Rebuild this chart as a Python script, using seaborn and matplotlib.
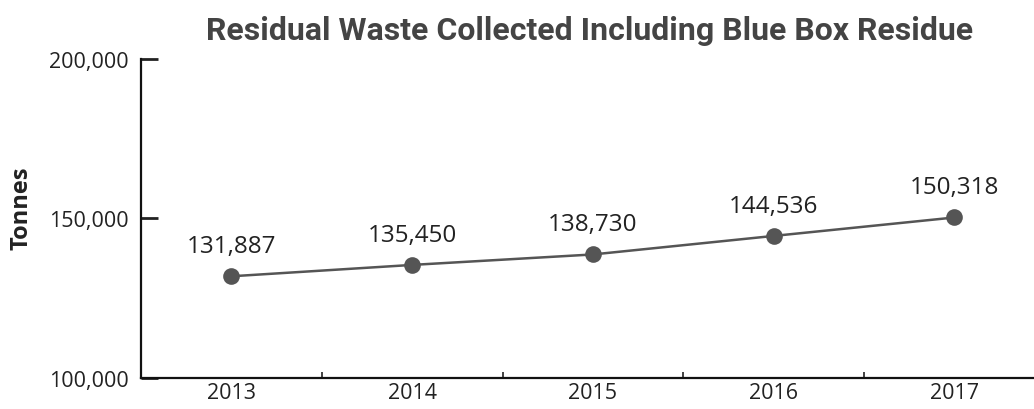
import matplotlib
matplotlib.use('Agg')
import matplotlib.pyplot as plt
import seaborn as sns
import pandas as pd
from matplotlib.ticker import FuncFormatter

years = ['2013', '2014', '2015', '2016', '2017']
tonnes = [131887, 135450, 138730, 144536, 150318]

sns.set_style('white')
plt.rcParams['font.family'] = ['Open Sans', 'DejaVu Sans']

df = pd.DataFrame({'Year': years, 'Tonnes': tonnes})

fig = plt.figure(figsize=(10.34, 4.10), dpi=100)
ax = fig.add_axes([0.1364, 0.0756, 0.8636, 0.7781])

sns.lineplot(data=df, x='Year', y='Tonnes', ax=ax, color='#555555',
             linewidth=1.8, marker='o', markersize=12, markeredgewidth=0)

# value labels above the points
for i, v in enumerate(tonnes):
    ax.annotate(f'{v:,}', (i, v), xytext=(0, 13), textcoords='offset points',
                ha='center', va='bottom', fontsize=17.5, color='#222222')

ax.set_ylim(100000, 200000)
ax.set_yticks([100000, 150000, 200000])
ax.yaxis.set_major_formatter(FuncFormatter(lambda v, p: f'{int(v):,}'))
ax.set_xlim(-0.5, 4.44)
ax.set_xticks(range(len(years)))
ax.set_xticklabels(years)
ax.set_xticks([0.5, 1.5, 2.5, 3.5], minor=True)
ax.tick_params(axis='x', which='major', length=0, labelsize=15.5, pad=3, colors='#222222')
ax.tick_params(axis='x', which='minor', direction='in', length=4, width=1.2, color='#222222', bottom=True)
ax.tick_params(axis='y', direction='in', length=12, width=2, labelsize=15.5, pad=9, colors='#222222', left=True)

for s in ['top', 'right']:
    ax.spines[s].set_visible(False)
for s in ['left', 'bottom']:
    ax.spines[s].set_color('#111111')
    ax.spines[s].set_linewidth(1.6)

ax.set_xlabel('')
ax.set_ylabel('Tonnes', fontsize=17, fontweight='bold', color='#222222')
ax.yaxis.set_label_coords(-0.12, 0.536)
fig.text(0.57, 0.925, 'Residual Waste Collected Including Blue Box Residue',
         ha='center', va='center', fontsize=23, fontweight='bold', color='#444444',
         family=['Roboto', 'DejaVu Sans'])

fig.savefig('out.png', dpi=100)
